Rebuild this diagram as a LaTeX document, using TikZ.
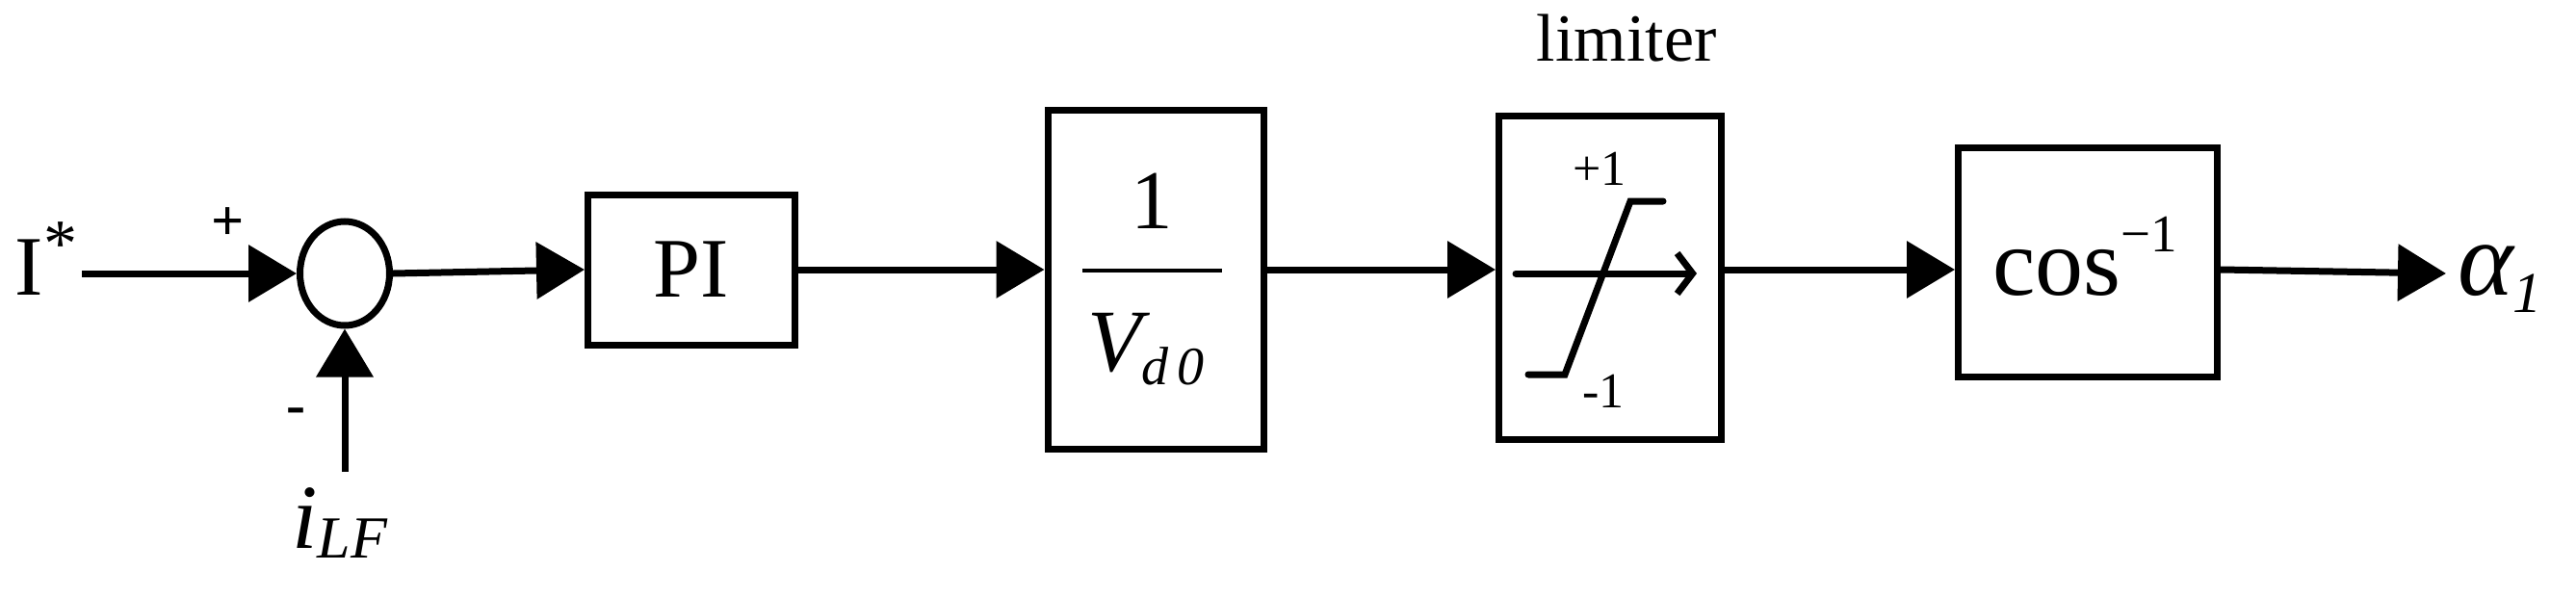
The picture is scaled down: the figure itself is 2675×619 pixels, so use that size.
\documentclass[tikz,border=0pt]{standalone}
\usepackage{fontspec}
\setmainfont{Liberation Serif}
\usetikzlibrary{arrows.meta,shapes.geometric}
\tikzset{
  blk/.style={draw,line width=7pt,inner sep=0pt},
  sig/.style={line width=7pt,-{Triangle[length=50pt,width=58pt]}},
  txt/.style={inner sep=0pt},
}
\newcommand{\fs}[1]{\fontsize{#1}{#1}\selectfont}
\begin{document}
\begin{tikzpicture}[x=1pt,y=-1pt]
\useasboundingbox (0,0) rectangle (2675,619);
% nodes
\node[txt,anchor=base] (istar) at (48,306) {\fs{88}I\raisebox{30pt}{\fs{70}*}};
\coordinate (istart) at (85,284);
\node[draw,line width=7pt,ellipse,minimum width=93pt,minimum height=108pt,inner sep=0pt] (sum) at (358,284) {};
\node[txt] (plus) at (237,233) {\fs{60}\bfseries +};
\node[txt] (minus) at (307,432) {\fs{60}\bfseries -};
\coordinate (fbstart) at (358,490);
\node[txt,anchor=base west] (ilf) at (303,569) {\fs{95}\itshape i\raisebox{-10pt}{\fs{62}LF}};
\node[blk,minimum width=215pt,minimum height=156pt] (pi) at (718,280) {\fs{88}PI};
\node[blk,minimum width=224pt,minimum height=352pt] (vd) at (1200,290) {};
\node[txt,anchor=base] (one) at (1196,237) {\fs{87}1};
\draw[line width=4pt] (1124,281) -- (1269,281);
\node[txt,anchor=base] (vdo) at (1190,385) {\fs{92}\itshape V\raisebox{-14pt}{\fs{56}d\,0}};
\node[blk,minimum width=231pt,minimum height=336pt] (lim) at (1672,288) {};
\node[txt,anchor=base] (limtxt) at (1689,63) {\fs{70}limiter};
\node[txt,anchor=base] (p1) at (1661,192) {\fs{52}+1};
\node[txt,anchor=base] (m1) at (1665,423) {\fs{52}-1};
\draw[line width=7pt,line cap=round] (1587,389) -- (1625,389) -- (1693,209) -- (1727,209);
\draw[line width=7pt,line cap=round,-{Straight Barb[length=16pt,width=42pt]}] (1574,284) -- (1762,284);
\node[blk,minimum width=269pt,minimum height=238pt] (cosb) at (2168,272) {};
\node[txt,anchor=base] (costxt) at (2165,306) {\fs{100}cos\raisebox{45pt}{\fs{55}−1}};
\node[txt,anchor=base west] (alpha) at (2552,306) {\fs{110}\itshape α\raisebox{-18pt}{\fs{60}1}};
\coordinate (alend) at (2540,284);
% connectors
\draw[sig] (istart) -- (sum.west);
\draw[sig] (fbstart) -- (sum.south);
\draw[sig] (sum.east) -- (pi.west);
\draw[sig] (pi.east) -- (vd.west |- pi.east);
\draw[sig] (vd.east |- pi.east) -- (lim.west |- pi.east);
\draw[sig] (lim.east |- pi.east) -- (cosb.west |- pi.east);
\draw[sig] (cosb.east |- pi.east) -- (alend);
\end{tikzpicture}
\end{document}
